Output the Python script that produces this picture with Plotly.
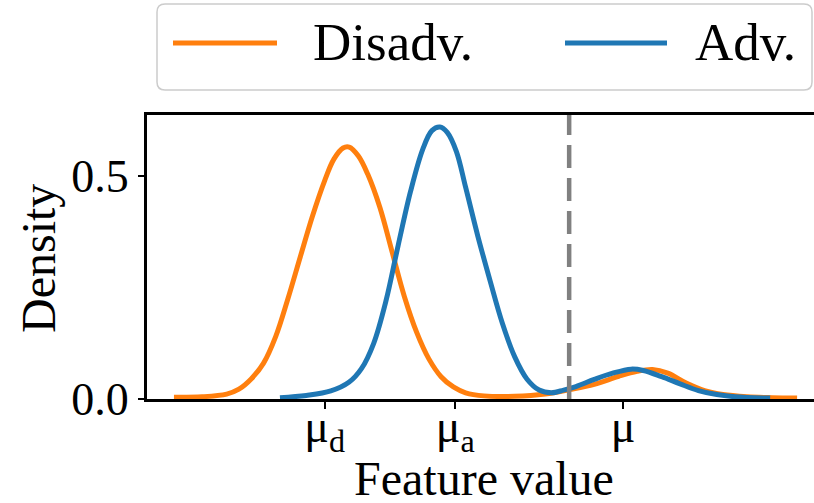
import plotly.graph_objects as go

# Kernel density estimates of the feature, read per group
x_disadv = [0.44, 0.90, 1.30, 1.50, 1.70, 1.90, 2.10, 2.30, 2.50, 2.70, 2.90, 3.05,
            3.20, 3.30, 3.45, 3.60, 3.80, 4.00, 4.20, 4.40, 4.60, 4.80, 5.00, 5.20,
            5.50, 6.00, 6.50, 6.90, 7.30, 7.70, 8.00, 8.25, 8.50, 8.80, 9.10, 9.40,
            9.80, 10.20, 10.61]
d_disadv = [0.004, 0.005, 0.011, 0.022, 0.045, 0.080, 0.140, 0.225, 0.318, 0.410, 0.490, 0.538,
            0.563, 0.565, 0.545, 0.505, 0.430, 0.330, 0.230, 0.150, 0.090, 0.050, 0.027, 0.014,
            0.007, 0.006, 0.011, 0.021, 0.033, 0.051, 0.062, 0.066, 0.058, 0.036, 0.019, 0.010,
            0.005, 0.003, 0.002]

x_adv = [2.17, 2.60, 3.00, 3.30, 3.50, 3.70, 3.90, 4.10, 4.30, 4.50, 4.65, 4.78,
         4.90, 5.05, 5.20, 5.40, 5.60, 5.80, 6.00, 6.20, 6.40, 6.60, 6.80, 7.00,
         7.30, 7.60, 7.90, 8.10, 8.40, 8.70, 9.00, 9.30, 9.60, 10.17]
d_adv = [0.003, 0.008, 0.018, 0.038, 0.068, 0.125, 0.220, 0.345, 0.465, 0.560, 0.602, 0.610,
         0.598, 0.555, 0.475, 0.365, 0.265, 0.170, 0.095, 0.045, 0.020, 0.014, 0.020, 0.028,
         0.044, 0.058, 0.067, 0.064, 0.050, 0.034, 0.019, 0.010, 0.005, 0.002]

# Group means, overall mean and decision threshold on the feature axis
tick_vals = [2.90, 5.03, 7.77]
tick_text = ["μ<sub>d</sub>", "μ<sub>a</sub>", "μ"]
threshold = 6.89

y_ticks = [0.0, 0.5]
y_tick_text = ["0.0", "0.5"]

series_names = ["Disadv.", "Adv."]
colors = ["#ff7f0e", "#1f77b4"]

FONT = "Liberation Serif, Times New Roman, serif"
W, H = 814, 503
L, R, T, B = 147, 0, 115, 104

fig = go.Figure()
fig.add_trace(go.Scatter(x=x_disadv, y=d_disadv, mode="lines", name=series_names[0],
                         line=dict(color=colors[0], width=5, shape="spline", smoothing=1.0)))
fig.add_trace(go.Scatter(x=x_adv, y=d_adv, mode="lines", name=series_names[1],
                         line=dict(color=colors[1], width=5, shape="spline", smoothing=1.0)))

fig.add_shape(type="line", xref="x", yref="paper", x0=threshold, x1=threshold, y0=0, y1=1,
              line=dict(color="#808080", width=4.5, dash="23px,10px"), layer="above")

# Pixel-to-paper helpers for the items placed around the axes
pw, ph = W - L - R, H - T - B


def px_x(p):
    return (p - L) / pw


def px_y(p):
    return (H - B - p) / ph


# Legend drawn as a framed box above the axes
bx0, bx1, by0, by1, rad = 157, 812, 4, 90, 8
path = (f"M {px_x(bx0 + rad)},{px_y(by0)} L {px_x(bx1 - rad)},{px_y(by0)} "
        f"Q {px_x(bx1)},{px_y(by0)} {px_x(bx1)},{px_y(by0 + rad)} "
        f"L {px_x(bx1)},{px_y(by1 - rad)} Q {px_x(bx1)},{px_y(by1)} {px_x(bx1 - rad)},{px_y(by1)} "
        f"L {px_x(bx0 + rad)},{px_y(by1)} Q {px_x(bx0)},{px_y(by1)} {px_x(bx0)},{px_y(by1 - rad)} "
        f"L {px_x(bx0)},{px_y(by0 + rad)} Q {px_x(bx0)},{px_y(by0)} {px_x(bx0 + rad)},{px_y(by0)} Z")
fig.add_shape(type="path", xref="paper", yref="paper", path=path,
              line=dict(color="#cccccc", width=1.5), fillcolor="rgba(255,255,255,0.8)")

legend_items = [(173, 277, 311), (565, 667, 693)]
for (lx0, lx1, tx), name, col in zip(legend_items, series_names, colors):
    fig.add_shape(type="line", xref="paper", yref="paper",
                  x0=px_x(lx0), x1=px_x(lx1), y0=px_y(43), y1=px_y(43),
                  line=dict(color=col, width=5))
    fig.add_annotation(x=px_x(tx), y=px_y(42), xref="paper", yref="paper", text=name,
                       showarrow=False, xanchor="left", yanchor="middle",
                       font=dict(family=FONT, size=53, color="black"))

# Axis titles
fig.add_annotation(x=px_x(484), y=px_y(478), xref="paper", yref="paper", text="Feature value",
                   showarrow=False, xanchor="center", yanchor="middle",
                   font=dict(family=FONT, size=48, color="black"))
fig.add_annotation(x=px_x(38), y=px_y(259), xref="paper", yref="paper", text="Density",
                   showarrow=False, xanchor="center", yanchor="middle", textangle=-90,
                   font=dict(family=FONT, size=48, color="black"))

fig.update_layout(
    width=W, height=H,
    margin=dict(l=L, r=R, t=T, b=B, pad=0, autoexpand=False),
    paper_bgcolor="white", plot_bgcolor="white",
    showlegend=False,
    font=dict(family=FONT, size=46, color="black"),
    xaxis=dict(range=[0, 10.886], tickvals=tick_vals, ticktext=tick_text,
               ticks="outside", ticklen=7, tickwidth=1.5, tickcolor="black",
               ticklabelstandoff=-22,
               showline=True, linewidth=3, linecolor="black", mirror=True,
               showgrid=False, zeroline=False, automargin=False,
               tickfont=dict(family=FONT, size=46)),
    yaxis=dict(range=[0, 0.637], tickvals=y_ticks, ticktext=y_tick_text,
               ticks="outside", ticklen=6, tickwidth=1.5, tickcolor="black",
               showline=True, linewidth=3, linecolor="black", mirror=False,
               showgrid=False, zeroline=False, automargin=False,
               tickfont=dict(family=FONT, size=46)),
)

fig.write_html("out.html")
